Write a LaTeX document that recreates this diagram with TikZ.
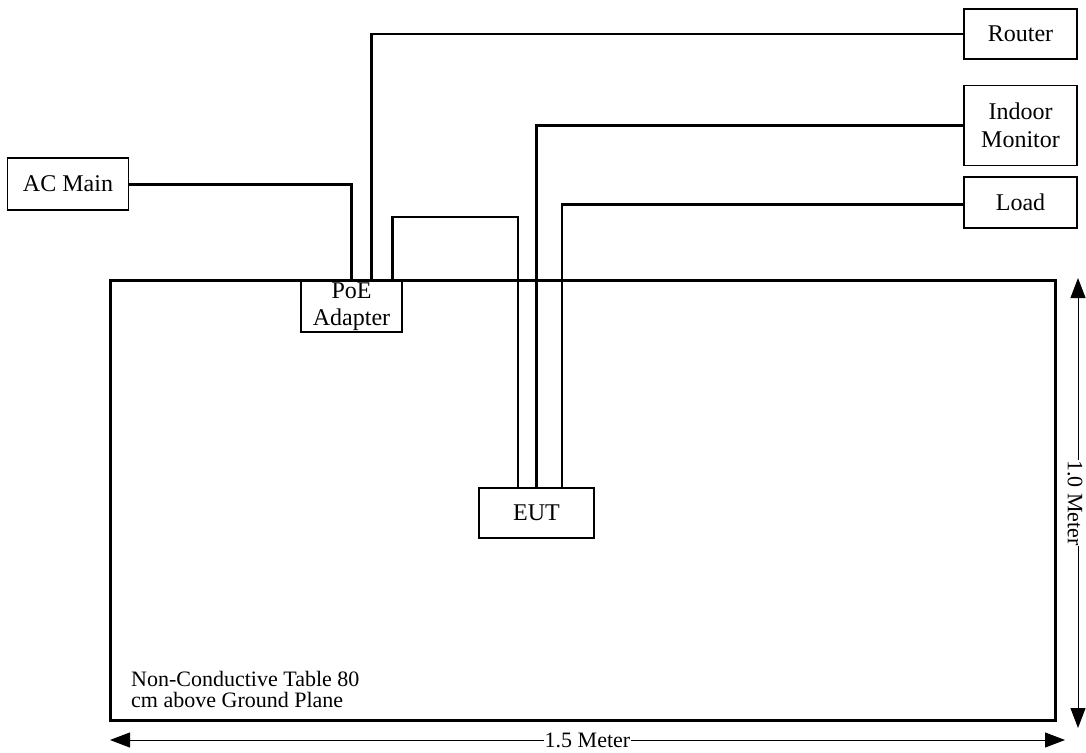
\documentclass[tikz,border=0pt]{standalone}
\usepackage{fontspec}
\setmainfont{Liberation Serif}
\usetikzlibrary{arrows.meta,positioning,calc}
\tikzset{
    unit/.style={
        rectangle, draw, line width=1.5pt, inner sep=0pt,
        align=center, font=\fontsize{24}{27.6}\selectfont
    },
    cable/.style={line width=2.2pt},
    power/.style={line width=3pt},
    dimline/.style={
        {Triangle[length=20pt,width=15pt]}-{Triangle[length=20pt,width=15pt]},
        line width=1pt
    },
    dimlabel/.style={fill=white, inner sep=0.5pt, font=\fontsize{22}{24}\selectfont},
}
\begin{document}
\begin{tikzpicture}[x=1pt, y=-1pt, node distance=10pt]
    \useasboundingbox (0,0) rectangle (1086,752);

    % table
    \node[draw, line width=3pt, minimum width=945pt, minimum height=440pt, inner sep=0pt, anchor=north west] (table) at (108.5,279) {};
    \node[anchor=north west, align=left, inner sep=0pt, font=\fontsize{22}{21}\selectfont] (tabletext) at (131,671) {Non-Conductive Table 80\\cm above Ground Plane};

    % units
    \node[unit, minimum width=121pt, minimum height=52pt] (acmain) at (68,184) {AC Main};
    \node[unit, minimum width=101pt, minimum height=51pt] (poe) at (351.5,306.5) {PoE\\Adapter};
    \node[unit, minimum width=115pt, minimum height=50pt] (eut) at (536.5,513) {EUT};
    \node[unit, minimum width=113pt, minimum height=50pt] (router) at (1020.5,34) {Router};
    \node[unit, minimum width=113pt, minimum height=80pt, below=25pt of router] (monitor) {Indoor\\Monitor};
    \node[unit, minimum width=113pt, minimum height=51pt, below=10pt of monitor] (load) {Load};

    % cables
    \draw[power] (acmain.east) -| (poe.north);
    \draw[cable] ($(poe.north)+(20,-1)$) |- (router.west);
    \draw[cable] ($(poe.north)+(41,-1)$) -- ++(0,-62) -| ($(eut.north)+(-18.5,0)$);
    \draw[cable] (eut.north) |- (monitor.west);
    \draw[cable] ($(eut.north)+(25.5,0)$) |- ($(load.west)+(0,2)$);

    % dimensions
    \coordinate (vtop) at (1078,278);
    \coordinate (vbot) at (1078,728);
    \coordinate (hleft) at (110,740);
    \coordinate (hright) at (1065,740);
    \draw[dimline] (vtop) -- (vbot);
    \node[dimlabel, rotate=-90] (vlabel) at ($(vtop)!0.5!(vbot)+(-3,0)$) {1.0 Meter};
    \draw[dimline] (hleft) -- (hright) node[midway, dimlabel] (hlabel) {1.5 Meter};
\end{tikzpicture}
\end{document}
